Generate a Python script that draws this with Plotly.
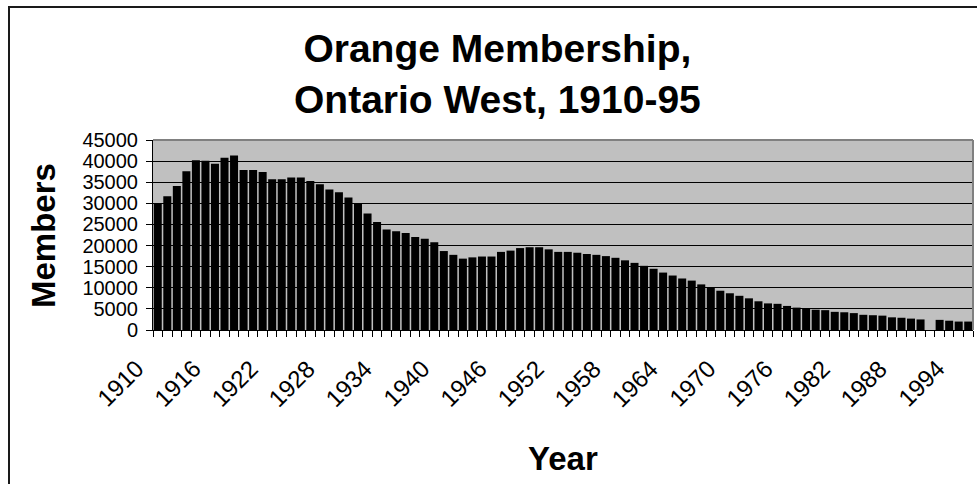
import plotly.graph_objects as go

years = list(range(1910, 1996))
members = [
    30000, 31700, 34100, 37600, 40200, 40100, 39400, 40800, 41300, 37900,
    37900, 37400, 35700, 35700, 36100, 36100, 35300, 34500, 33300, 32600,
    31400, 30000, 27600, 25600, 23800, 23400, 23000, 22000, 21600, 20800,
    18700, 17800, 16900, 17200, 17400, 17400, 18500, 18800, 19400, 19600,
    19600, 19100, 18500, 18500, 18300, 18000, 17800, 17500, 17100, 16500,
    15900, 15200, 14500, 13600, 12900, 12200, 11700, 10800, 10100, 9300,
    8700, 8100, 7500, 6800, 6300, 6200, 5700, 5300, 5000, 4800,
    4700, 4300, 4200, 4000, 3600, 3500, 3400, 3000, 2900, 2700,
    2500, None, 2400, 2200, 2000, 2000,
]
label_years = list(range(1910, 1996, 6))
label_text = [str(y) for y in label_years]
y_ticks = list(range(0, 45001, 5000))

title_lines = ["Orange Membership,", "Ontario West, 1910-95"]
x_title = "Year"
y_title = "Members"

FONT = "Liberation Sans, Arial, sans-serif"

fig = go.Figure(
    go.Bar(
        x=years,
        y=members,
        marker=dict(color="black", line=dict(width=0)),
        hoverinfo="x+y",
    )
)

L, R, T, B = 153, 4, 140, 154
W, H = 977, 484
pw = W - L - R
ph = H - T - B


def px_x(px):
    return (px - L) / pw


def px_y(py):
    return (H - B - py) / ph


annotations = [
    dict(text="<br>".join("<b>" + s + "</b>" for s in title_lines),
         xref="paper", yref="paper", x=px_x(497), y=px_y(74),
         xanchor="center", yanchor="middle", showarrow=False,
         font=dict(size=39, family=FONT, color="black"), align="center"),
    dict(text="<b>" + y_title + "</b>", xref="paper", yref="paper",
         x=px_x(43), y=px_y(236), xanchor="center", yanchor="middle",
         textangle=-90, showarrow=False,
         font=dict(size=33, family=FONT, color="black")),
    dict(text="<b>" + x_title + "</b>", xref="paper", yref="paper",
         x=px_x(563), y=px_y(458), xanchor="center", yanchor="middle",
         showarrow=False, font=dict(size=33, family=FONT, color="black")),
]
for yr, txt in zip(label_years, label_text):
    annotations.append(dict(
        text=txt, xref="x", yref="paper", x=yr, y=0,
        xanchor="right", yanchor="top", xshift=-8, yshift=-24,
        textangle=-45, showarrow=False, borderpad=0,
        font=dict(size=24, family=FONT, color="black"),
    ))

fig.update_layout(
    width=W,
    height=H,
    margin=dict(l=L, r=R, t=T, b=B, pad=0),
    paper_bgcolor="white",
    plot_bgcolor="#C0C0C0",
    bargap=0.16,
    showlegend=False,
    font=dict(family=FONT, color="black", size=19),
    xaxis=dict(
        range=[1909.5, 1995.5],
        tickmode="array",
        tickvals=label_years,
        ticktext=label_text,
        showticklabels=False,
        ticks="",
        showgrid=False,
        zeroline=False,
        showline=True,
        linecolor="black",
        linewidth=1,
        minor=dict(ticks="outside", ticklen=6, tickcolor="black", tickwidth=1,
                   tickmode="linear", tick0=1909.5, dtick=1, showgrid=False),
    ),
    yaxis=dict(
        range=[0, 45000],
        tickmode="array",
        tickvals=y_ticks,
        ticktext=[str(v) for v in y_ticks],
        ticks="outside",
        ticklen=6,
        tickcolor="black",
        showgrid=True,
        gridcolor="black",
        gridwidth=1,
        zeroline=False,
        showline=True,
        linecolor="black",
        linewidth=1,
        tickfont=dict(size=20, family=FONT),
        ticklabelstandoff=4,
    ),
    annotations=annotations,
    shapes=[
        dict(type="rect", xref="paper", yref="paper",
             x0=px_x(9), x1=px_x(990), y0=px_y(495), y1=px_y(7),
             line=dict(color="#1a1a1a", width=2), layer="below"),
        dict(type="line", xref="paper", yref="paper",
             x0=0, x1=1, y0=1, y1=1, line=dict(color="#808080", width=2), layer="above"),
        dict(type="line", xref="paper", yref="paper",
             x0=1, x1=1, y0=0, y1=1, line=dict(color="#808080", width=2), layer="above"),
    ],
)

fig.write_html("out.html")
